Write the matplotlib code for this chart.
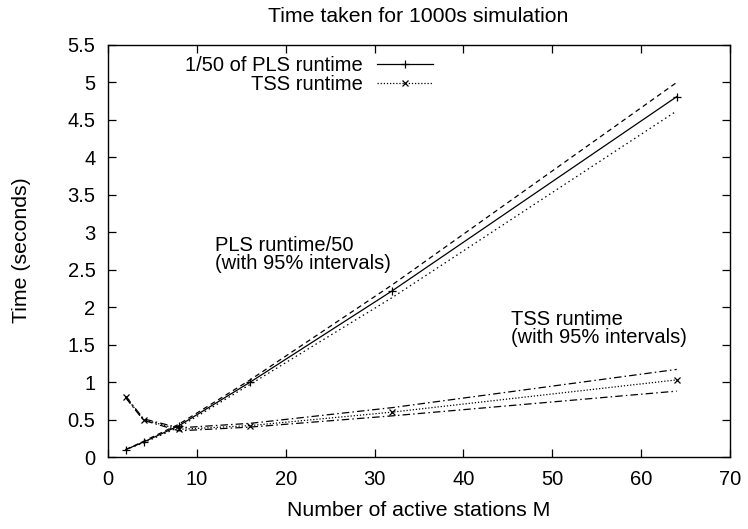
import matplotlib
matplotlib.use("Agg")
import matplotlib.pyplot as plt

plt.rcParams['font.family'] = ['Liberation Sans', 'DejaVu Sans']

# Stations M
stations = [2, 4, 8, 16, 32, 64]

# PLS runtime / 50 and its 95% bounds
pls_mean = [0.10, 0.20, 0.42, 1.00, 2.22, 4.81]
pls_upper = [0.10, 0.21, 0.44, 1.03, 2.30, 5.00]
pls_lower = [0.10, 0.19, 0.40, 0.97, 2.13, 4.62]

# TSS runtime and its 95% bounds
tss_mean = [0.80, 0.50, 0.37, 0.42, 0.60, 1.03]
tss_upper = [0.81, 0.51, 0.39, 0.45, 0.66, 1.17]
tss_lower = [0.79, 0.49, 0.35, 0.40, 0.55, 0.88]

FS = 14.5
FS_LABEL = 15.3

fig = plt.figure(figsize=(7.48, 5.29), dpi=100)
ax = fig.add_axes([0.1444, 0.136, 0.976 - 0.1444, 0.915 - 0.136])

ax.plot(stations, pls_mean, color='black', lw=0.9, marker='+', ms=6,
        mew=0.9, label='1/50 of PLS runtime')
ax.plot(stations, tss_mean, color='black', lw=0.9, ls=(0, (1, 1.5)),
        marker='x', ms=5, mew=0.9, label='TSS runtime')
ax.plot(stations, pls_upper, color='black', lw=0.9, ls=(0, (4, 3)))
ax.plot(stations, pls_lower, color='black', lw=0.9, ls=(0, (1.2, 2.5)))
ax.plot(stations, tss_upper, color='black', lw=0.9, ls=(0, (6, 2.5, 1.2, 2.5)))
ax.plot(stations, tss_lower, color='black', lw=0.9, ls=(0, (6, 2.5, 1.2, 2.5)))

ax.set_xlim(0, 70)
ax.set_ylim(0, 5.5)
ax.set_xticks(range(0, 71, 10))
ax.set_yticks([0, 0.5, 1, 1.5, 2, 2.5, 3, 3.5, 4, 4.5, 5, 5.5])
ax.set_yticklabels(['0', '0.5', '1', '1.5', '2', '2.5', '3', '3.5', '4', '4.5', '5', '5.5'])
ax.tick_params(direction='in', top=True, right=True, length=6, width=0.9,
               labelsize=FS)
ax.tick_params(axis='y', pad=9)
ax.tick_params(axis='x', pad=9)
for s in ax.spines.values():
    s.set_linewidth(1.0)

fig.text(418 / 748, 1 - 16 / 529, 'Time taken for 1000s simulation',
         fontsize=FS_LABEL, ha='center', va='center')
fig.text(0.5602, 1 - 510 / 529, 'Number of active stations M', fontsize=FS_LABEL,
         ha='center', va='center')
fig.text(22 / 748, 1 - 250 / 529, 'Time (seconds)', fontsize=FS_LABEL,
         ha='center', va='center', rotation=90)

ax.text(12.0, 2.95, 'PLS runtime/50\n(with 95% intervals)', fontsize=FS,
        va='top', ha='left', linespacing=0.95)
ax.text(45.3, 1.96, 'TSS runtime\n(with 95% intervals)', fontsize=FS,
        va='top', ha='left', linespacing=0.95)

leg = ax.legend(loc='upper right', bbox_to_anchor=(433 / 748, 1 - 56 / 529),
                bbox_transform=fig.transFigure, frameon=False,
                markerfirst=False, fontsize=FS, handlelength=2.8,
                handletextpad=0.7, labelspacing=0.0, borderpad=0,
                borderaxespad=0)
for t in leg.get_texts():
    t.set_ha('right')
leg._legend_box.align = 'right'

fig.savefig('out.png', dpi=100)
